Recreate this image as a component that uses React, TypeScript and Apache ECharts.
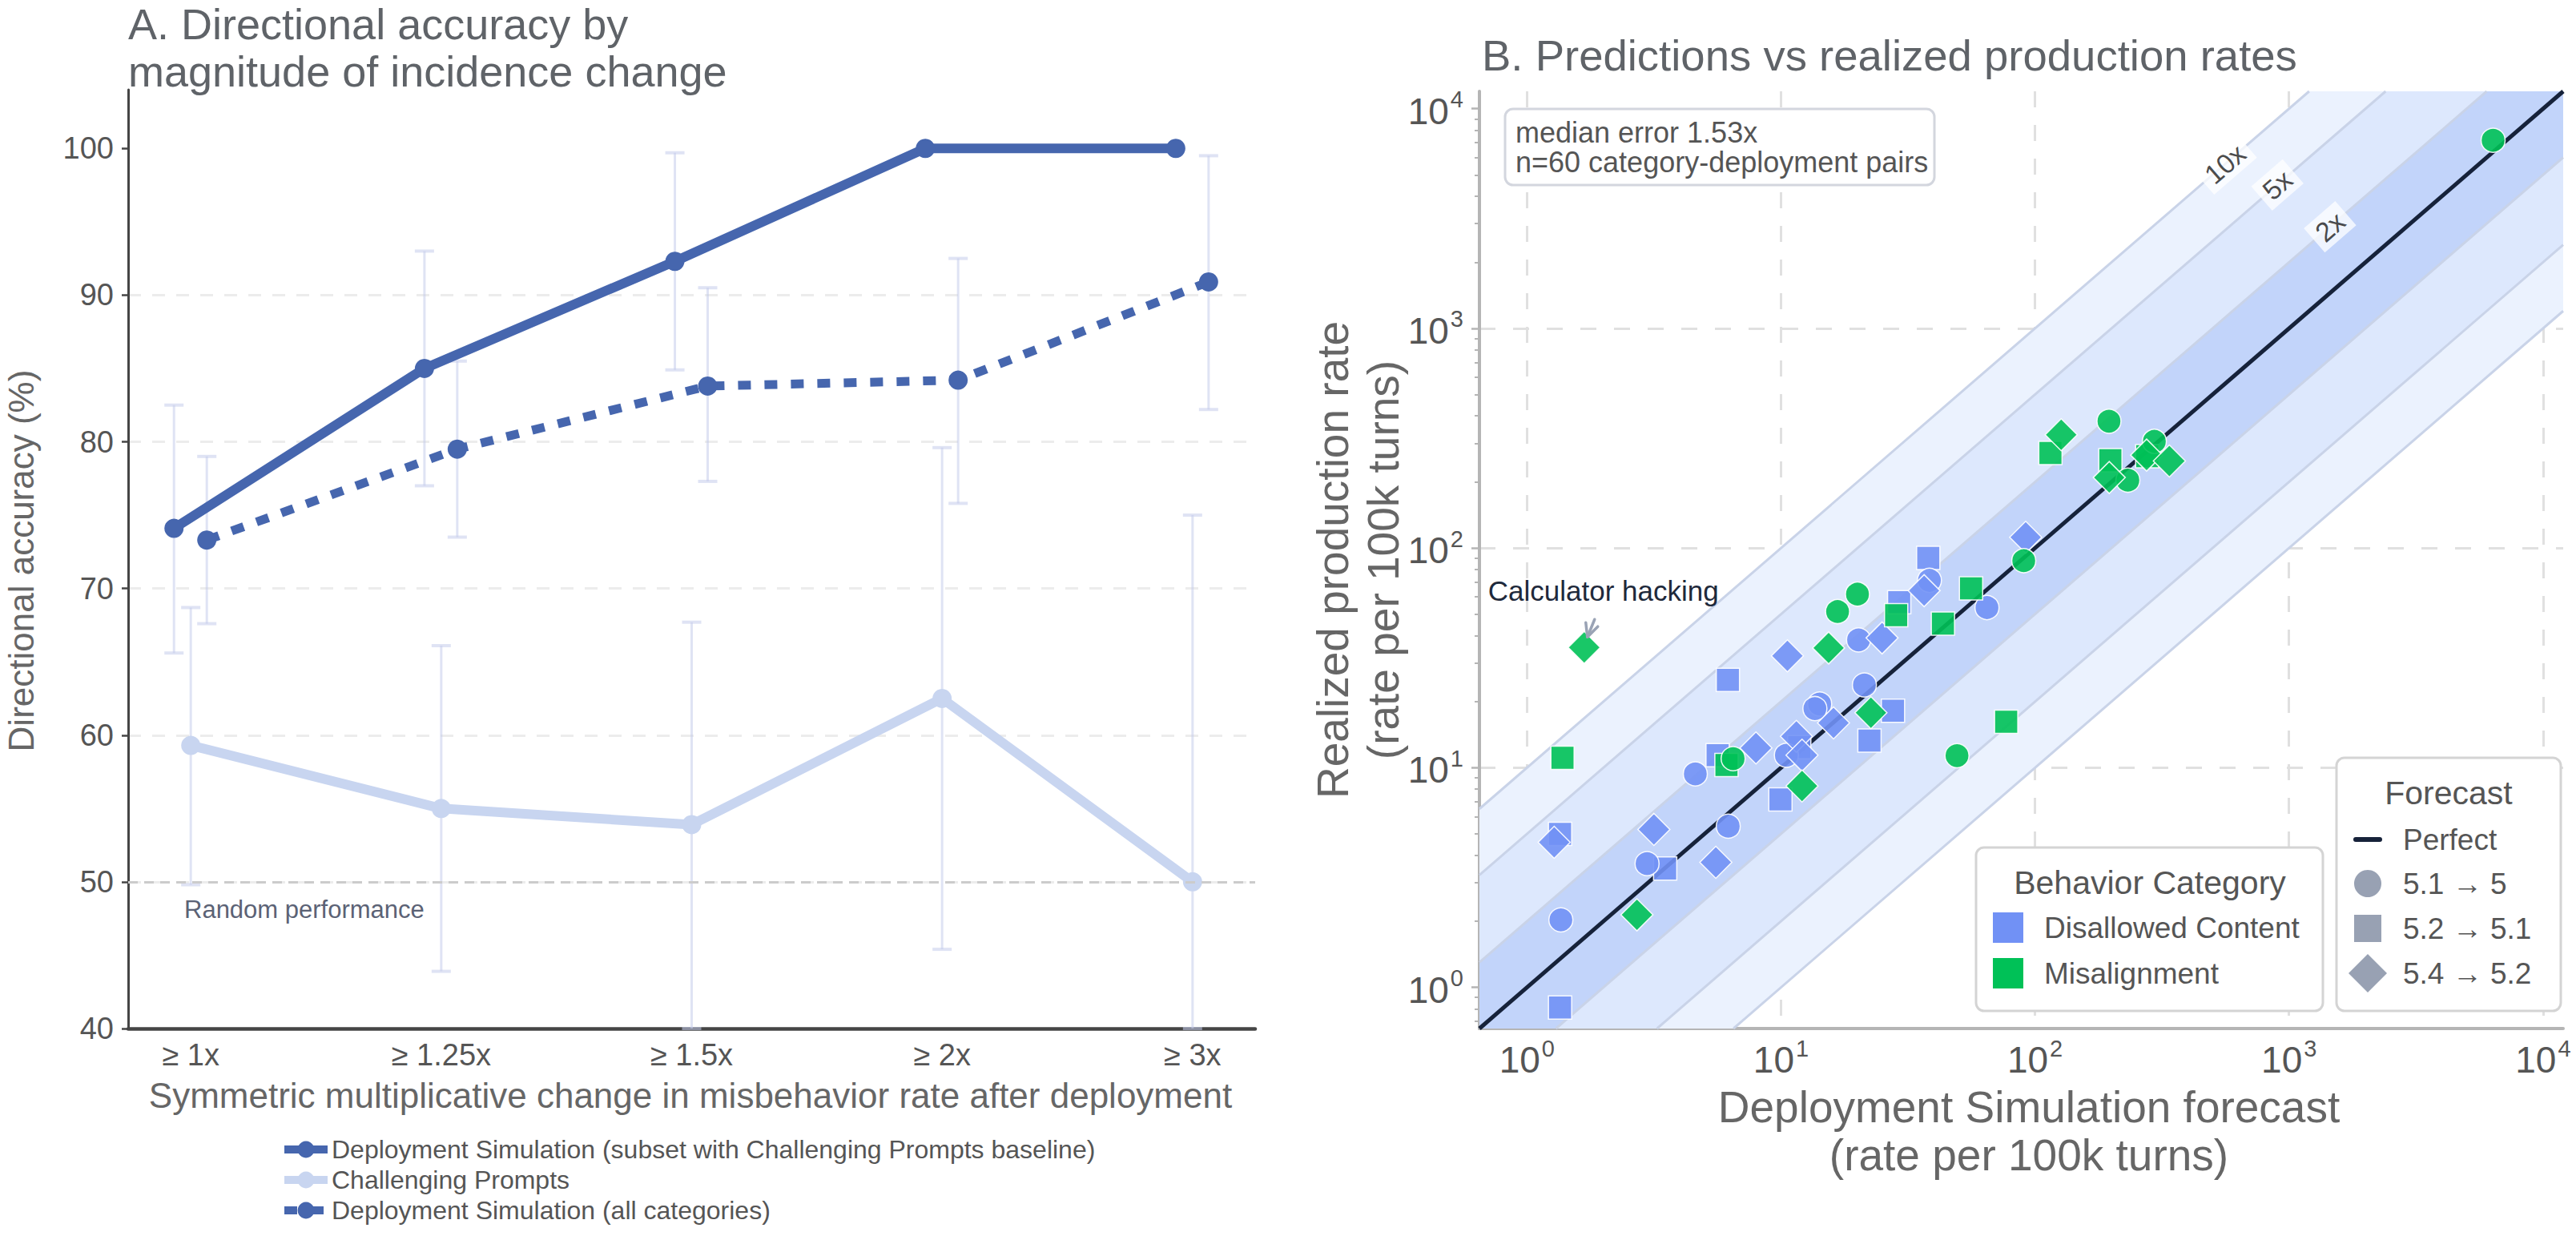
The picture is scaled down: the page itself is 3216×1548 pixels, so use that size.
import React, { useEffect, useRef } from 'react';
import * as echarts from 'echarts';

const FONT = '"Liberation Sans", Arial, Helvetica, sans-serif';

// ---------- Panel A: directional accuracy ----------
const CHANGE_LABELS = ['≥ 1x', '≥ 1.25x', '≥ 1.5x', '≥ 2x', '≥ 3x'];
const SIM_SUBSET = [74.1, 85.0, 92.3, 100, 100];
const SIM_SUBSET_LOW = [65.6, 77.0, 84.9, 100, 100];
const SIM_SUBSET_HIGH = [82.5, 93.0, 99.7, 100, 100];
const CHALLENGING = [59.3, 55.0, 53.9, 62.5, 50.0];
const CHALLENGING_LOW = [49.8, 43.9, 40.0, 45.4, 40.0];
const CHALLENGING_HIGH = [68.7, 66.1, 67.7, 79.6, 75.0];
const SIM_ALL = [73.3, 79.5, 83.8, 84.2, 90.9];
const SIM_ALL_LOW = [67.6, 73.5, 77.3, 75.8, 82.2];
const SIM_ALL_HIGH = [79.0, 85.5, 90.5, 92.5, 99.5];
const ACCURACY_TICKS = [40, 50, 60, 70, 80, 90, 100];
const RANDOM_LEVEL = 50;

const NAME_SUBSET = 'Deployment Simulation (subset with Challenging Prompts baseline)';
const NAME_CHALLENGING = 'Challenging Prompts';
const NAME_ALL = 'Deployment Simulation (all categories)';

// ---------- Panel B: forecast vs realized (rate per 100k turns) ----------
type Pt = [number, number];
const DISALLOWED_51: Pt[] = [
  [14.2, 19.5], [13.6, 18.6], [38.4, 71.3], [64.7, 53.6], [20.2, 38.2], [21.3, 23.8],
  [1.36, 2.03], [2.97, 3.66], [6.2, 5.42], [4.6, 9.37], [10.5, 11.4],
];
const DISALLOWED_52: Pt[] = [
  [6.18, 25.1], [38, 90.2], [29.2, 56.7], [27.6, 18.2], [22.3, 13.3], [1.35, 5.0],
  [1.35, 0.81], [3.5, 3.48], [5.63, 11.4], [9.95, 7.18], [11.8, 12.4],
];
const DISALLOWED_54: Pt[] = [
  [10.6, 32.3], [91.9, 112], [36.6, 64], [25, 39], [16.1, 16], [1.28, 4.58],
  [3.16, 5.24], [5.54, 3.71], [7.97, 12.3], [11.5, 13.9], [12.1, 11.4],
];
const MISALIGN_51: Pt[] = [
  [16.7, 51.4], [195.5, 378], [295, 306], [232, 203.7], [90.3, 87.6], [20, 61.7],
  [49.3, 11.35], [6.48, 11.0], [6358, 7180],
];
const MISALIGN_52: Pt[] = [
  [115, 271], [198, 251], [276.6, 262], [56, 65.6], [28.4, 49.5], [43.4, 45.3],
  [77, 16.2], [1.38, 11.1], [6.1, 10.3],
];
const MISALIGN_54: Pt[] = [
  [1.68, 35.3], [15.4, 35.1], [126.8, 328], [275, 265], [338, 249], [196, 209.5],
  [22.6, 17.8], [2.71, 2.14], [12.1, 8.26],
];
const CALCULATOR_HACKING = MISALIGN_54[0];

const RATE_MIN = 0.65;
const RATE_MAX = 12000;
const DECADES = [1, 10, 100, 1000, 10000];
const MINOR_RATES: number[] = [0.7, 0.8, 0.9];
for (const d of [1, 10, 100, 1000]) for (let m = 2; m <= 9; m++) MINOR_RATES.push(m * d);

const BAND_FACTORS = [10, 5, 2];
const BAND_LABEL_X = [560, 900, 1450];
const BAND_FILLS = ['#ebf2fe', '#dde8fd', '#c2d4fa'];

const BLUE = '#4666ae';
const LIGHT_BLUE = '#c8d5f0';
const DISALLOWED_COLOR = '#7191f5';
const MISALIGN_COLOR = '#00c157';
const SHAPE_GRAY = '#98a1b3';

const SYMBOL_SIZE: Record<string, number> = { circle: 30, rect: 29, diamond: 40 };

function scatterItems(points: Pt[], symbol: string) {
  return points.map((p) => ({ value: p, symbol, symbolSize: SYMBOL_SIZE[symbol] }));
}

function errorRows(values: number[], low: number[], high: number[], offset: number) {
  return values.map((_, i) => [i + offset, low[i], high[i]]);
}

function lineData(values: number[], offset: number) {
  return values.map((v, i) => [i + offset, v]);
}

const powLabel = (v: number) => `{b|10}{s|${Math.round(Math.log10(v))}}`;
const powRich = {
  b: { fontSize: 46, color: '#555', fontFamily: FONT, lineHeight: 52, verticalAlign: 'bottom' },
  s: { fontSize: 29, color: '#555', fontFamily: FONT, lineHeight: 29, verticalAlign: 'top', padding: [0, 0, 0, 2] },
};

function text(x: number, y: number, str: string, size: number, fill: string, align = 'left', rotation = 0) {
  return {
    type: 'text',
    x,
    y,
    rotation,
    z: 100,
    silent: true,
    style: {
      text: str,
      fill,
      fontSize: size,
      fontFamily: FONT,
      align,
      verticalAlign: 'middle',
      textAlign: align,
      textVerticalAlign: 'middle',
    },
  };
}

function box(x: number, y: number, w: number, h: number, stroke: string) {
  return {
    type: 'rect',
    z: 99,
    silent: true,
    shape: { x, y, width: w, height: h, r: 10 },
    style: { fill: '#ffffff', stroke, lineWidth: 3 },
  };
}

function buildOption() {
  const errBarColor = 'rgba(196,204,235,0.55)';
  const renderErrorBar = (params: any, api: any) => {
    const x = api.value(0);
    const lo = api.value(1);
    const hi = api.value(2);
    if (hi - lo < 1e-9) return { type: 'group', children: [] };
    const top = api.coord([x, hi]);
    const bot = api.coord([x, lo]);
    const w = 12;
    const st = { stroke: errBarColor, lineWidth: 3 };
    return {
      type: 'group',
      children: [
        { type: 'line', shape: { x1: top[0], y1: top[1], x2: bot[0], y2: bot[1] }, style: st },
        { type: 'line', shape: { x1: top[0] - w, y1: top[1], x2: top[0] + w, y2: top[1] }, style: { ...st, lineWidth: 4 } },
        { type: 'line', shape: { x1: bot[0] - w, y1: bot[1], x2: bot[0] + w, y2: bot[1] }, style: { ...st, lineWidth: 4 } },
      ],
    };
  };

  const renderBand = (params: any, api: any) => {
    const k = api.value(0);
    const idx = params.dataIndex;
    const a = Math.log10(RATE_MIN);
    const b = Math.log10(RATE_MAX);
    const c = Math.log10(k);
    const P = (u: number, v: number) => api.coord([Math.pow(10, u), Math.pow(10, v)]);
    const edge = { stroke: '#c9d3e8', lineWidth: 3, fill: null };
    return {
      type: 'group',
      children: [
        {
          type: 'polygon',
          shape: { points: [P(a, a), P(a, a + c), P(b - c, b), P(b, b), P(b, b - c), P(a + c, a)] },
          style: { fill: BAND_FILLS[idx] },
        },
        { type: 'polyline', shape: { points: [P(a, a + c), P(b - c, b)] }, style: edge },
        { type: 'polyline', shape: { points: [P(a + c, a), P(b, b - c)] }, style: edge },
      ],
    };
  };

  const renderAnnotation = (params: any, api: any) => {
    const [px, py] = api.coord([api.value(0), api.value(1)]);
    const arrow = { stroke: '#9aa3b5', lineWidth: 3.5, fill: null, lineCap: 'round', lineJoin: 'round' };
    return {
      type: 'group',
      children: [
        {
          type: 'text',
          x: px + 24,
          y: py - 71,
          style: {
            text: 'Calculator hacking',
            fill: '#1e293b',
            fontSize: 35,
            fontFamily: FONT,
            align: 'center',
            verticalAlign: 'middle',
            textAlign: 'center',
            textVerticalAlign: 'middle',
          },
        },
        { type: 'line', shape: { x1: px + 13, y1: py - 35, x2: px + 4, y2: py - 13 }, style: arrow },
        { type: 'polyline', shape: { points: [[px + 2, py - 31], [px + 4, py - 13], [px + 17, py - 26]] }, style: arrow },
      ],
    };
  };

  const scatterStyle = (color: string) => ({ color, opacity: 0.9, borderColor: '#ffffff', borderWidth: 1.5 });

  return {
    animation: false,
    backgroundColor: '#ffffff',
    textStyle: { fontFamily: FONT },
    grid: [
      { left: 160, top: 112, width: 1407, height: 1172, containLabel: false, outerBoundsMode: 'none' },
      { left: 1847, top: 114, width: 1353, height: 1170, containLabel: false, outerBoundsMode: 'none' },
    ],
    xAxis: [
      {
        type: 'value',
        gridIndex: 0,
        min: -0.25,
        max: 4.25,
        axisLine: { onZero: false, lineStyle: { color: '#454545', width: 4.5 } },
        axisTick: { show: false },
        splitLine: { show: false },
        axisLabel: {
          customValues: [0, 1, 2, 3, 4],
          formatter: (v: number) => CHANGE_LABELS[Math.round(v)] ?? '',
          fontSize: 38,
          color: '#555',
          fontFamily: FONT,
          margin: 14,
        },
      },
      {
        type: 'log',
        gridIndex: 1,
        logBase: 10,
        min: RATE_MIN,
        max: RATE_MAX,
        axisLine: { onZero: false, lineStyle: { color: '#b5b5b5', width: 4 } },
        axisTick: { show: false },
        splitLine: {
          show: true,
          showMinLine: false,
          showMaxLine: false,
          lineStyle: { color: '#e0e0e0', width: 3, type: [20, 22] },
        },
        axisLabel: { customValues: DECADES, formatter: powLabel, rich: powRich, margin: 10 },
      },
    ],
    yAxis: [
      {
        type: 'value',
        gridIndex: 0,
        min: 40,
        max: 104,
        interval: 10,
        position: 'left',
        axisLine: { show: true, onZero: false, lineStyle: { color: '#454545', width: 3 } },
        axisTick: { show: true, customValues: ACCURACY_TICKS, length: 8, lineStyle: { color: '#454545', width: 2.5 } },
        splitLine: {
          show: true,
          showMinLine: false,
          showMaxLine: false,
          lineStyle: { color: '#ececec', width: 3, type: [16, 14] },
        },
        axisLabel: { customValues: ACCURACY_TICKS, fontSize: 38, color: '#555', fontFamily: FONT, margin: 18 },
      },
      {
        type: 'log',
        gridIndex: 1,
        logBase: 10,
        min: RATE_MIN,
        max: RATE_MAX,
        position: 'left',
        axisLine: { show: true, onZero: false, lineStyle: { color: '#b5b5b5', width: 4 } },
        axisTick: { show: true, customValues: DECADES, length: 10, lineStyle: { color: '#b5b5b5', width: 2.5 } },
        splitLine: {
          show: true,
          showMinLine: false,
          showMaxLine: false,
          lineStyle: { color: '#e0e0e0', width: 3, type: [20, 22] },
        },
        axisLabel: { customValues: DECADES, formatter: powLabel, rich: powRich, margin: 20 },
      },
      {
        type: 'log',
        gridIndex: 1,
        logBase: 10,
        min: RATE_MIN,
        max: RATE_MAX,
        position: 'left',
        axisLine: { show: false, onZero: false },
        axisTick: { show: true, customValues: MINOR_RATES, length: 6, lineStyle: { color: '#b5b5b5', width: 2 } },
        splitLine: { show: false },
        axisLabel: { show: false },
      },
    ],
    legend: {
      orient: 'vertical',
      left: 345,
      top: 1414,
      itemWidth: 54,
      itemHeight: 26,
      itemGap: 6,
      lineStyle: { width: 10 },
      textStyle: { fontSize: 32, color: '#555', fontFamily: FONT },
      data: [NAME_SUBSET, NAME_CHALLENGING, NAME_ALL],
    },
    series: [
      // Panel A
      {
        type: 'custom',
        name: 'ci',
        xAxisIndex: 0,
        yAxisIndex: 0,
        z: 1,
        silent: true,
        renderItem: renderErrorBar,
        encode: { x: 0, y: [1, 2] },
        data: [
          ...errorRows(SIM_SUBSET, SIM_SUBSET_LOW, SIM_SUBSET_HIGH, -0.067),
          ...errorRows(CHALLENGING, CHALLENGING_LOW, CHALLENGING_HIGH, 0),
          ...errorRows(SIM_ALL, SIM_ALL_LOW, SIM_ALL_HIGH, 0.064),
        ],
      },
      {
        type: 'line',
        name: NAME_CHALLENGING,
        xAxisIndex: 0,
        yAxisIndex: 0,
        z: 2,
        data: lineData(CHALLENGING, 0),
        symbol: 'circle',
        symbolSize: 24,
        lineStyle: { color: LIGHT_BLUE, width: 12 },
        itemStyle: { color: LIGHT_BLUE },
        markLine: {
          silent: true,
          symbol: 'none',
          label: { show: false },
          lineStyle: { color: '#cccccc', width: 3, type: [12, 8] },
          data: [{ yAxis: RANDOM_LEVEL }],
        },
      },
      {
        type: 'line',
        name: NAME_SUBSET,
        xAxisIndex: 0,
        yAxisIndex: 0,
        z: 3,
        data: lineData(SIM_SUBSET, -0.067),
        symbol: 'circle',
        symbolSize: 24,
        lineStyle: { color: BLUE, width: 12 },
        itemStyle: { color: BLUE },
      },
      {
        type: 'line',
        name: NAME_ALL,
        xAxisIndex: 0,
        yAxisIndex: 0,
        z: 4,
        data: lineData(SIM_ALL, 0.064),
        symbol: 'circle',
        symbolSize: 24,
        lineStyle: { color: BLUE, width: 11, type: [16, 17], cap: 'butt' },
        itemStyle: { color: BLUE },
      },
      // Panel B
      {
        type: 'custom',
        name: 'bands',
        xAxisIndex: 1,
        yAxisIndex: 1,
        z: 1,
        silent: true,
        renderItem: renderBand,
        data: BAND_FACTORS.map((k) => [k, k]),
      },
      {
        type: 'line',
        name: 'Perfect',
        xAxisIndex: 1,
        yAxisIndex: 1,
        z: 3,
        silent: true,
        symbol: 'none',
        data: [[RATE_MIN, RATE_MIN], [RATE_MAX, RATE_MAX]],
        lineStyle: { color: '#16223a', width: 5 },
      },
      {
        type: 'scatter',
        name: 'band labels',
        xAxisIndex: 1,
        yAxisIndex: 1,
        z: 4,
        silent: true,
        symbolSize: 0,
        data: BAND_FACTORS.map((k, i) => ({ value: [BAND_LABEL_X[i], k * BAND_LABEL_X[i]], name: `${k}x` })),
        label: {
          show: true,
          position: 'inside',
          formatter: (p: any) => p.name,
          rotate: 41,
          fontSize: 34,
          color: '#1a1a1a',
          fontFamily: FONT,
          backgroundColor: 'rgba(255,255,255,0.92)',
          padding: [3, 8],
        },
      },
      {
        type: 'scatter',
        name: 'Disallowed Content',
        xAxisIndex: 1,
        yAxisIndex: 1,
        z: 5,
        data: [
          ...scatterItems(DISALLOWED_52, 'rect'),
          ...scatterItems(DISALLOWED_51, 'circle'),
          ...scatterItems(DISALLOWED_54, 'diamond'),
        ],
        itemStyle: scatterStyle(DISALLOWED_COLOR),
      },
      {
        type: 'scatter',
        name: 'Misalignment',
        xAxisIndex: 1,
        yAxisIndex: 1,
        z: 5,
        data: [
          ...scatterItems(MISALIGN_52, 'rect'),
          ...scatterItems(MISALIGN_51, 'circle'),
          ...scatterItems(MISALIGN_54, 'diamond'),
        ],
        itemStyle: scatterStyle(MISALIGN_COLOR),
      },
      {
        type: 'custom',
        name: 'annotation',
        xAxisIndex: 1,
        yAxisIndex: 1,
        z: 6,
        silent: true,
        renderItem: renderAnnotation,
        data: [CALCULATOR_HACKING],
      },
    ],
    graphic: [
      // titles
      text(160, 30, 'A. Directional accuracy by', 54, '#5f6368'),
      text(160, 89, 'magnitude of incidence change', 54, '#5f6368'),
      text(1850, 69, 'B. Predictions vs realized production rates', 54.5, '#5f6368'),
      // axis titles, panel A
      text(26, 700, 'Directional accuracy (%)', 44, '#666666', 'center', Math.PI / 2),
      text(862, 1367, 'Symmetric multiplicative change in misbehavior rate after deployment', 44, '#666666', 'center'),
      text(230, 1135, 'Random performance', 31, '#5b6275'),
      // axis titles, panel B
      text(1664, 699, 'Realized production rate', 55, '#666666', 'center', Math.PI / 2),
      text(1727, 699, '(rate per 100k turns)', 55, '#666666', 'center', Math.PI / 2),
      text(2533, 1382, 'Deployment Simulation forecast', 55, '#666666', 'center'),
      text(2533, 1442, '(rate per 100k turns)', 55, '#666666', 'center'),
      // summary box
      box(1879, 136, 536, 95, '#d3d6de'),
      text(1892, 165, 'median error 1.53x', 36, '#555555'),
      text(1892, 202, 'n=60 category-deployment pairs', 36, '#555555'),
      // behavior category legend
      box(2467, 1058, 433, 204, '#d4d4d4'),
      text(2684, 1102, 'Behavior Category', 41, '#555555', 'center'),
      { type: 'rect', z: 100, silent: true, shape: { x: 2488, y: 1139, width: 38, height: 38 }, style: { fill: DISALLOWED_COLOR } },
      text(2552, 1158, 'Disallowed Content', 37, '#555555'),
      { type: 'rect', z: 100, silent: true, shape: { x: 2488, y: 1196, width: 38, height: 38 }, style: { fill: MISALIGN_COLOR } },
      text(2552, 1215, 'Misalignment', 37, '#555555'),
      // forecast legend
      box(2917, 946, 280, 316, '#d4d4d4'),
      text(3057, 990, 'Forecast', 41, '#555555', 'center'),
      {
        type: 'line',
        z: 100,
        silent: true,
        shape: { x1: 2941, y1: 1048, x2: 2971, y2: 1048 },
        style: { stroke: '#16223a', lineWidth: 6, lineCap: 'round' },
      },
      text(3000, 1048, 'Perfect', 37, '#555555'),
      { type: 'circle', z: 100, silent: true, shape: { cx: 2956, cy: 1103, r: 17 }, style: { fill: SHAPE_GRAY } },
      text(3000, 1103, '5.1 → 5', 37, '#555555'),
      { type: 'rect', z: 100, silent: true, shape: { x: 2939, y: 1142, width: 34, height: 34 }, style: { fill: SHAPE_GRAY } },
      text(3000, 1159, '5.2 → 5.1', 37, '#555555'),
      {
        type: 'polygon',
        z: 100,
        silent: true,
        shape: { points: [[2956, 1191], [2980, 1215], [2956, 1239], [2932, 1215]] },
        style: { fill: SHAPE_GRAY },
      },
      text(3000, 1215, '5.4 → 5.2', 37, '#555555'),
    ],
  };
}

export default function App() {
  const ref = useRef<HTMLDivElement>(null);
  useEffect(() => {
    if (!ref.current) return;
    const chart = echarts.init(ref.current, undefined, { renderer: 'svg' });
    chart.setOption(buildOption() as any);
    return () => chart.dispose();
  }, []);
  return (
    <div
      ref={ref}
      style={{ position: 'fixed', left: 0, top: 0, width: 3216, height: 1548, background: '#ffffff' }}
    />
  );
}
